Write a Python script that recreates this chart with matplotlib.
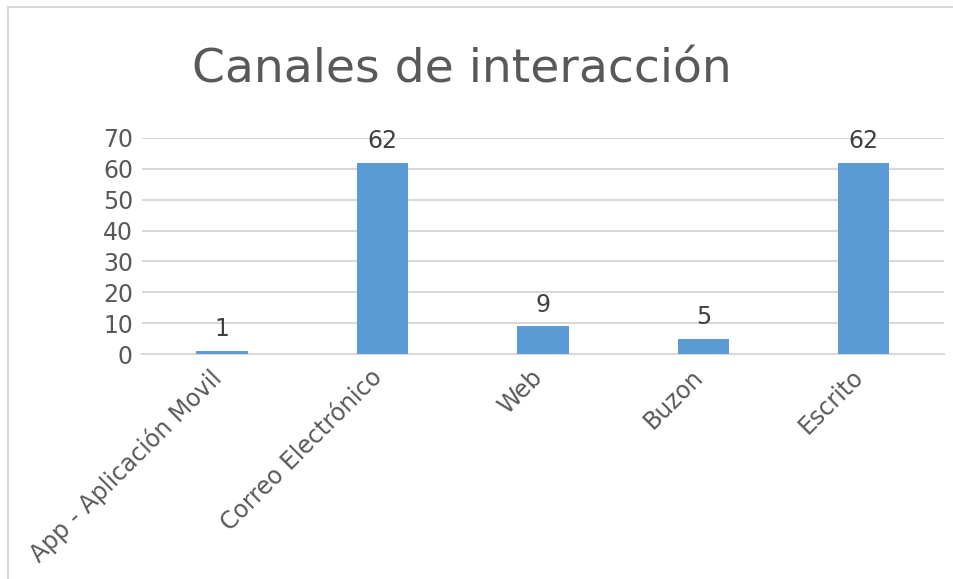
import matplotlib.pyplot as plt
from matplotlib.lines import Line2D
from matplotlib.transforms import ScaledTranslation

plt.rcParams['font.family'] = ['DejaVu Sans']

# data
canales = ["App - Aplicación Movil", "Correo Electrónico", "Web", "Buzon", "Escrito"]
valores = [1, 62, 9, 5, 62]
y_ticks = [0, 10, 20, 30, 40, 50, 60, 70]

bar_color = "#5B9BD5"
grid_color = "#D9D9D9"
text_color = "#595959"

fig = plt.figure(figsize=(9.54, 5.79), dpi=100)
ax = fig.add_axes([0.1488, 0.3886, 0.8407, 0.3731])

x = list(range(len(canales)))
ax.bar(x, valores, width=0.32, color=bar_color, zorder=3)

for xi, v in zip(x, valores):
    ax.annotate(str(v), (xi, v), xytext=(0, 7), textcoords="offset points",
                ha="center", va="bottom", fontsize=17, color="#404040")

ax.set_xlim(-0.5, 4.5)
ax.set_ylim(0, 70)
ax.set_yticks(y_ticks)
ax.set_xticks(x)
ax.set_xticklabels(canales, rotation=45, ha="right", va="top",
                   rotation_mode="anchor", fontsize=17, color=text_color)
ax.tick_params(axis="y", labelsize=17, labelcolor=text_color, length=0, pad=6.5)
ax.tick_params(axis="x", length=0, pad=10)

# nudge the slanted labels a little to the left
shift = ScaledTranslation(-13 / 100, 3 / 100, fig.dpi_scale_trans)
for lbl in ax.get_xticklabels():
    lbl.set_transform(lbl.get_transform() + shift)

ax.grid(axis="y", color=grid_color, linewidth=1.5, zorder=0)
for s in ["top", "right", "left"]:
    ax.spines[s].set_visible(False)
ax.spines["bottom"].set_color(grid_color)
ax.spines["bottom"].set_linewidth(1.5)

fig.text(0.484, 0.879, "Canales de interacción", ha="center", va="center",
         fontsize=34, color=text_color)

# chart border (left and top only visible)
fig.add_artist(Line2D([8 / 954, 8 / 954], [0, 1 - 7 / 579], transform=fig.transFigure,
                      color=grid_color, linewidth=1.5))
fig.add_artist(Line2D([8 / 954, 1], [1 - 7 / 579, 1 - 7 / 579], transform=fig.transFigure,
                      color=grid_color, linewidth=1.5))

fig.savefig("out.png", dpi=100, facecolor="white")
